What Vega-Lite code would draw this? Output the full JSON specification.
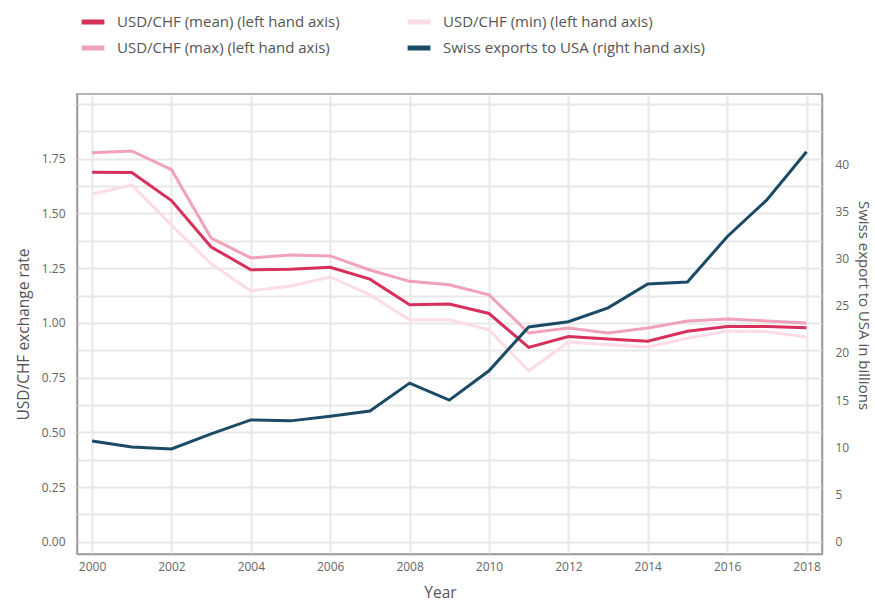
{
  "$schema": "https://vega.github.io/schema/vega-lite/v6.json",
  "autosize": "none",
  "padding": {"left": 77, "top": 94, "right": 53, "bottom": 52},
  "width": 745,
  "height": 460,
  "background": "white",
  "config": {
    "font": "Open Sans",
    "view": {"stroke": "#9a9a9a", "strokeWidth": 1.5},
    "axis": {
      "labelColor": "#666666",
      "labelFontSize": 12,
      "titleColor": "#555555",
      "titleFontSize": 15.5,
      "titleFontWeight": "normal",
      "domainColor": "#9a9a9a",
      "domainWidth": 1.5,
      "gridColor": "#e8e8e8",
      "gridWidth": 2,
      "tickColor": "#e8e8e8",
      "tickWidth": 2
    }
  },
  "data": {
    "values": [
      {"year": 2000, "series": "USD/CHF (max) (left hand axis)", "value": 1.777},
      {"year": 2001, "series": "USD/CHF (max) (left hand axis)", "value": 1.786},
      {"year": 2002, "series": "USD/CHF (max) (left hand axis)", "value": 1.70},
      {"year": 2003, "series": "USD/CHF (max) (left hand axis)", "value": 1.388},
      {"year": 2004, "series": "USD/CHF (max) (left hand axis)", "value": 1.297},
      {"year": 2005, "series": "USD/CHF (max) (left hand axis)", "value": 1.31},
      {"year": 2006, "series": "USD/CHF (max) (left hand axis)", "value": 1.306},
      {"year": 2007, "series": "USD/CHF (max) (left hand axis)", "value": 1.242},
      {"year": 2008, "series": "USD/CHF (max) (left hand axis)", "value": 1.19},
      {"year": 2009, "series": "USD/CHF (max) (left hand axis)", "value": 1.174},
      {"year": 2010, "series": "USD/CHF (max) (left hand axis)", "value": 1.128},
      {"year": 2011, "series": "USD/CHF (max) (left hand axis)", "value": 0.954},
      {"year": 2012, "series": "USD/CHF (max) (left hand axis)", "value": 0.977},
      {"year": 2013, "series": "USD/CHF (max) (left hand axis)", "value": 0.954},
      {"year": 2014, "series": "USD/CHF (max) (left hand axis)", "value": 0.977},
      {"year": 2015, "series": "USD/CHF (max) (left hand axis)", "value": 1.009},
      {"year": 2016, "series": "USD/CHF (max) (left hand axis)", "value": 1.018},
      {"year": 2017, "series": "USD/CHF (max) (left hand axis)", "value": 1.009},
      {"year": 2018, "series": "USD/CHF (max) (left hand axis)", "value": 1.0},
      {"year": 2000, "series": "USD/CHF (min) (left hand axis)", "value": 1.589},
      {"year": 2001, "series": "USD/CHF (min) (left hand axis)", "value": 1.63},
      {"year": 2002, "series": "USD/CHF (min) (left hand axis)", "value": 1.447},
      {"year": 2003, "series": "USD/CHF (min) (left hand axis)", "value": 1.27},
      {"year": 2004, "series": "USD/CHF (min) (left hand axis)", "value": 1.146},
      {"year": 2005, "series": "USD/CHF (min) (left hand axis)", "value": 1.169},
      {"year": 2006, "series": "USD/CHF (min) (left hand axis)", "value": 1.21},
      {"year": 2007, "series": "USD/CHF (min) (left hand axis)", "value": 1.128},
      {"year": 2008, "series": "USD/CHF (min) (left hand axis)", "value": 1.014},
      {"year": 2009, "series": "USD/CHF (min) (left hand axis)", "value": 1.014},
      {"year": 2010, "series": "USD/CHF (min) (left hand axis)", "value": 0.968},
      {"year": 2011, "series": "USD/CHF (min) (left hand axis)", "value": 0.78},
      {"year": 2012, "series": "USD/CHF (min) (left hand axis)", "value": 0.913},
      {"year": 2013, "series": "USD/CHF (min) (left hand axis)", "value": 0.90},
      {"year": 2014, "series": "USD/CHF (min) (left hand axis)", "value": 0.89},
      {"year": 2015, "series": "USD/CHF (min) (left hand axis)", "value": 0.93},
      {"year": 2016, "series": "USD/CHF (min) (left hand axis)", "value": 0.963},
      {"year": 2017, "series": "USD/CHF (min) (left hand axis)", "value": 0.96},
      {"year": 2018, "series": "USD/CHF (min) (left hand axis)", "value": 0.936},
      {"year": 2000, "series": "USD/CHF (mean) (left hand axis)", "value": 1.689},
      {"year": 2001, "series": "USD/CHF (mean) (left hand axis)", "value": 1.687},
      {"year": 2002, "series": "USD/CHF (mean) (left hand axis)", "value": 1.559},
      {"year": 2003, "series": "USD/CHF (mean) (left hand axis)", "value": 1.347},
      {"year": 2004, "series": "USD/CHF (mean) (left hand axis)", "value": 1.243},
      {"year": 2005, "series": "USD/CHF (mean) (left hand axis)", "value": 1.245},
      {"year": 2006, "series": "USD/CHF (mean) (left hand axis)", "value": 1.254},
      {"year": 2007, "series": "USD/CHF (mean) (left hand axis)", "value": 1.200},
      {"year": 2008, "series": "USD/CHF (mean) (left hand axis)", "value": 1.083},
      {"year": 2009, "series": "USD/CHF (mean) (left hand axis)", "value": 1.086},
      {"year": 2010, "series": "USD/CHF (mean) (left hand axis)", "value": 1.043},
      {"year": 2011, "series": "USD/CHF (mean) (left hand axis)", "value": 0.888},
      {"year": 2012, "series": "USD/CHF (mean) (left hand axis)", "value": 0.938},
      {"year": 2013, "series": "USD/CHF (mean) (left hand axis)", "value": 0.927},
      {"year": 2014, "series": "USD/CHF (mean) (left hand axis)", "value": 0.916},
      {"year": 2015, "series": "USD/CHF (mean) (left hand axis)", "value": 0.962},
      {"year": 2016, "series": "USD/CHF (mean) (left hand axis)", "value": 0.984},
      {"year": 2017, "series": "USD/CHF (mean) (left hand axis)", "value": 0.984},
      {"year": 2018, "series": "USD/CHF (mean) (left hand axis)", "value": 0.978},
      {"year": 2000, "series": "Swiss exports to USA (right hand axis)", "value": 10.67},
      {"year": 2001, "series": "Swiss exports to USA (right hand axis)", "value": 10.04},
      {"year": 2002, "series": "Swiss exports to USA (right hand axis)", "value": 9.83},
      {"year": 2003, "series": "Swiss exports to USA (right hand axis)", "value": 11.42},
      {"year": 2004, "series": "Swiss exports to USA (right hand axis)", "value": 12.9},
      {"year": 2005, "series": "Swiss exports to USA (right hand axis)", "value": 12.8},
      {"year": 2006, "series": "Swiss exports to USA (right hand axis)", "value": 13.3},
      {"year": 2007, "series": "Swiss exports to USA (right hand axis)", "value": 13.85},
      {"year": 2008, "series": "Swiss exports to USA (right hand axis)", "value": 16.8},
      {"year": 2009, "series": "Swiss exports to USA (right hand axis)", "value": 15.0},
      {"year": 2010, "series": "Swiss exports to USA (right hand axis)", "value": 18.1},
      {"year": 2011, "series": "Swiss exports to USA (right hand axis)", "value": 22.75},
      {"year": 2012, "series": "Swiss exports to USA (right hand axis)", "value": 23.3},
      {"year": 2013, "series": "Swiss exports to USA (right hand axis)", "value": 24.77},
      {"year": 2014, "series": "Swiss exports to USA (right hand axis)", "value": 27.3},
      {"year": 2015, "series": "Swiss exports to USA (right hand axis)", "value": 27.5},
      {"year": 2016, "series": "Swiss exports to USA (right hand axis)", "value": 32.3},
      {"year": 2017, "series": "Swiss exports to USA (right hand axis)", "value": 36.2},
      {"year": 2018, "series": "Swiss exports to USA (right hand axis)", "value": 41.3}
    ]
  },
  "encoding": {
    "x": {
      "field": "year",
      "type": "quantitative",
      "scale": {"domain": [1999.62, 2018.39], "nice": false, "zero": false},
      "axis": {
        "title": "Year",
        "values": [2000, 2002, 2004, 2006, 2008, 2010, 2012, 2014, 2016, 2018],
        "format": "d",
        "grid": true,
        "ticks": false,
        "labelPadding": 7,
        "titlePadding": 13,
        "titleX": 363
      }
    },
    "color": {
      "field": "series",
      "type": "nominal",
      "scale": {
        "domain": [
          "USD/CHF (mean) (left hand axis)",
          "USD/CHF (max) (left hand axis)",
          "USD/CHF (min) (left hand axis)",
          "Swiss exports to USA (right hand axis)"
        ],
        "range": ["#d7315b", "#f0a2b8", "#fcdce6", "#1b4a66"]
      },
      "legend": {
        "title": null,
        "orient": "none",
        "legendX": 2,
        "legendY": -86,
        "columns": 2,
        "columnPadding": 57,
        "rowPadding": 2,
        "symbolType": "stroke",
        "symbolSize": 520,
        "symbolStrokeWidth": 5,
        "labelFontSize": 15,
        "labelColor": "#555555",
        "labelOffset": 10,
        "labelLimit": 400
      }
    }
  },
  "layer": [
    {
      "transform": [{"filter": "datum.series != 'Swiss exports to USA (right hand axis)'"}],
      "mark": {"type": "line", "strokeWidth": 3},
      "encoding": {
        "y": {
          "field": "value",
          "type": "quantitative",
          "scale": {"domain": [-0.056, 2.046], "nice": false, "zero": false},
          "axis": {
            "title": "USD/CHF exchange rate",
            "values": [0, 0.125, 0.25, 0.375, 0.5, 0.625, 0.75, 0.875, 1, 1.125, 1.25, 1.375, 1.5, 1.625, 1.75, 1.875, 2],
            "labelExpr": "(round(datum.value*1000) % 250 == 0 && datum.value < 1.9) ? format(datum.value, '.2f') : ''",
            "grid": true,
            "tickSize": 3,
            "labelPadding": 9,
            "titlePadding": 10,
            "titleY": 240
          }
        },
        "order": {"field": "series"}
      }
    },
    {
      "transform": [{"filter": "datum.series == 'Swiss exports to USA (right hand axis)'"}],
      "mark": {"type": "line", "strokeWidth": 3},
      "encoding": {
        "y": {
          "field": "value",
          "type": "quantitative",
          "scale": {"domain": [-1.3, 47.42], "nice": false, "zero": false},
          "axis": {
            "orient": "right",
            "title": "Swiss export to USA in billions",
            "values": [0, 5, 10, 15, 20, 25, 30, 35, 40],
            "grid": false,
            "ticks": false,
            "labelPadding": 13,
            "titlePadding": 7,
            "titleFontSize": 15,
            "titleY": 211
          }
        }
      }
    }
  ],
  "resolve": {"scale": {"y": "independent"}}
}
